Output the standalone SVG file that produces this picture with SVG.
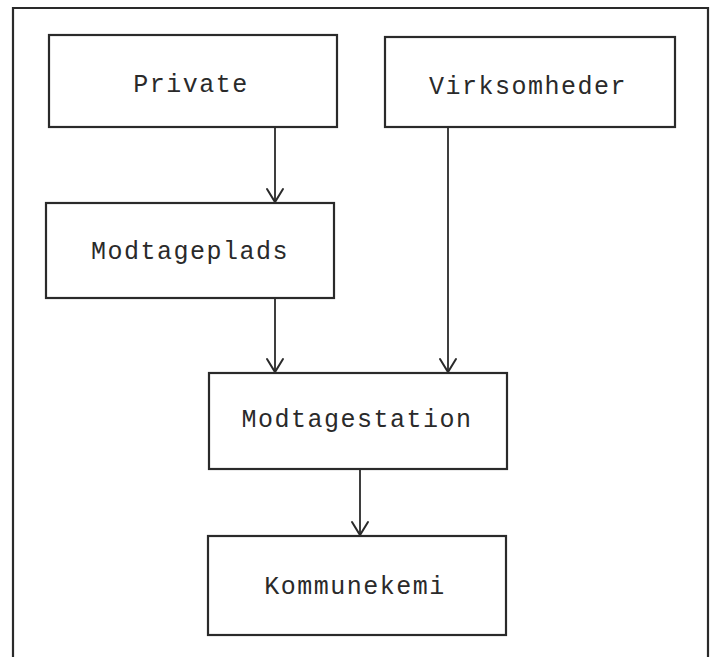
<svg xmlns="http://www.w3.org/2000/svg" width="716" height="657" viewBox="0 0 716 657">
<style>
.box{fill:#fff;stroke:#2a2a2a;stroke-width:2.2}
.lbl{font-family:"Liberation Mono","Courier New",monospace;font-size:25px;fill:#2a2a2a;text-anchor:middle;letter-spacing:1.5px}
.conn{stroke:#2a2a2a;stroke-width:1.8;fill:none}
.head{stroke:#2a2a2a;stroke-width:2;fill:none;stroke-linecap:round}
.frame{stroke:#2a2a2a;stroke-width:2.2;fill:none}
</style>
<rect width="716" height="657" fill="#fff"/>
<path class="frame" d="M13,660 L13,8 L708,8 L708,660"/>
<g id="connectors">
<line class="conn" x1="275" y1="127" x2="275" y2="202"/>
<polyline class="head" points="267,189 275,202 283,189"/>
<line class="conn" x1="448" y1="127" x2="448" y2="372"/>
<polyline class="head" points="440,359 448,372 456,359"/>
<line class="conn" x1="275" y1="298" x2="275" y2="372"/>
<polyline class="head" points="267,359 275,372 283,359"/>
<line class="conn" x1="360" y1="469" x2="360" y2="535"/>
<polyline class="head" points="352,522 360,535 368,522"/>
</g>
<g id="private">
<rect class="box" x="49" y="35" width="288" height="92"/>
<text class="lbl" x="191" y="92">Private</text>
</g>
<g id="virksomheder">
<rect class="box" x="385" y="37" width="290" height="90"/>
<text class="lbl" x="528" y="94">Virksomheder</text>
</g>
<g id="modtageplads">
<rect class="box" x="46" y="203" width="288" height="95"/>
<text class="lbl" x="190" y="259">Modtageplads</text>
</g>
<g id="modtagestation">
<rect class="box" x="209" y="373" width="298" height="96"/>
<text class="lbl" x="357" y="427">Modtagestation</text>
</g>
<g id="kommunekemi">
<rect class="box" x="208" y="536" width="298" height="99"/>
<text class="lbl" x="355" y="594">Kommunekemi</text>
</g>
</svg>
